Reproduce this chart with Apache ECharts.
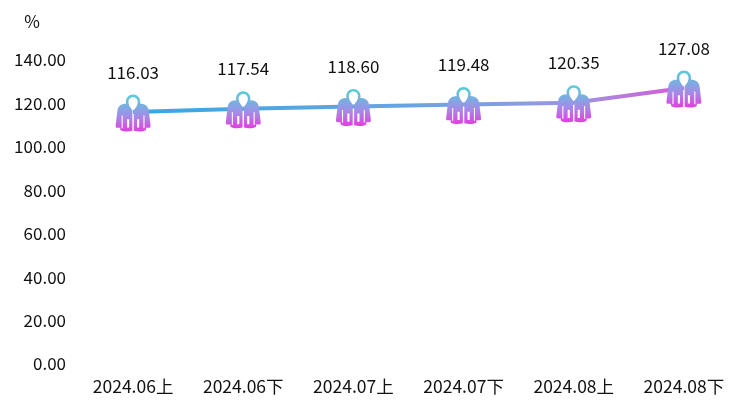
<!DOCTYPE html>
<html><head><meta charset="utf-8">
<style>html,body{margin:0;padding:0;background:#fff}#c{width:747px;height:414px}</style>
<script src="https://cdn.jsdelivr.net/npm/echarts@6/dist/echarts.min.js"></script>
</head><body><div id="c"></div>
<script>
const categories = ['2024.06上','2024.06下','2024.07上','2024.07下','2024.08上','2024.08下'];
const values = [116.03,117.54,118.60,119.48,120.35,127.08];
const yTicks = {min:0,max:140,interval:20};
const icon = 'path://M50 0C38 0 30 9 30 20C30 21 30 23 31 24L22 25C12 27 7 34 6 44L1 84C1 88 3 89 6 89L14 89L14 95C24 100 36 100 48 97L48 42L40 31C38 27 37 24 37 20C37 12 43 7 50 7C57 7 63 12 63 20C63 24 62 27 60 31L52 42L52 97C64 100 76 100 86 95L86 89L94 89C97 89 99 88 99 84L94 44C93 34 88 27 78 25L69 24C70 23 70 21 70 20C70 9 62 0 50 0Z'
 + 'M33 66L39 66L39 88L33 88ZM61 66L67 66L67 88L61 88ZM18 56L21 56L21 90L18 90ZM79 56L82 56L82 90L79 90Z';
const font = '"Noto Sans CJK SC","Noto Sans",sans-serif';
const chart = echarts.init(document.getElementById('c'));
chart.setOption({
  animation:false,
  grid:{left:78,right:8,top:60,bottom:50},
  xAxis:{type:'category',data:categories,
    axisLine:{show:false},axisTick:{show:false},
    axisLabel:{color:'#111',fontSize:17.5,fontFamily:font,margin:14}},
  yAxis:{type:'value',min:yTicks.min,max:yTicks.max,interval:yTicks.interval,
    name:'%',nameLocation:'end',nameGap:30,
    nameTextStyle:{color:'#111',fontSize:17,align:'right',padding:[0,38,0,0],fontFamily:font},
    axisLine:{show:false},axisTick:{show:false},splitLine:{show:false},
    axisLabel:{color:'#111',fontSize:17,margin:12,fontFamily:font,
      formatter:v=>v.toFixed(2)}},
  series:[{type:'line',data:values,smooth:false,
    symbol:icon,symbolSize:[35,37],symbolKeepAspect:false,symbolOffset:[0,1],
    showAllSymbol:true,
    lineStyle:{width:4,color:new echarts.graphic.LinearGradient(0,0,1,0,[
      {offset:0,color:'#35a9e0'},{offset:0.55,color:'#6fa3e2'},{offset:0.8,color:'#9a96e0'},{offset:1,color:'#dd55d8'}])},
    itemStyle:{opacity:1,color:new echarts.graphic.LinearGradient(0,0,0,1,[
      {offset:0,color:'#55cfd6'},{offset:0.35,color:'#7fa9e2'},{offset:0.6,color:'#a78ae6'},{offset:1,color:'#e23ee0'}])},
    label:{show:true,position:'top',distance:14,color:'#111',fontSize:17,fontFamily:font,
      formatter:p=>p.value.toFixed(2)}
  }]
});
</script></body></html>
